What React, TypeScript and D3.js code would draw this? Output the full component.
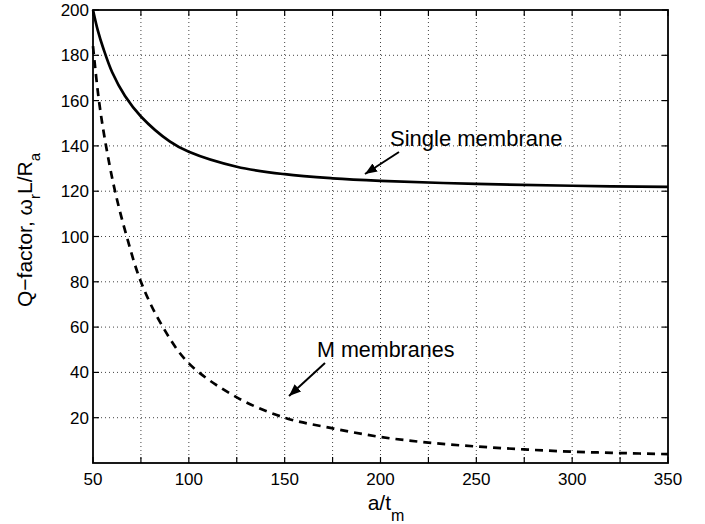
import React, { useEffect, useRef } from 'react';
import * as d3 from 'd3';

// single membrane curve (a/t_m, Q)
const singleX = [50, 52.5, 55.4, 60, 66.7, 75, 90, 100, 125, 150, 175, 200, 250, 300, 350];
const singleY = [200, 191, 183, 172.5, 162, 153, 142, 137.4, 130.8, 127.5, 125.7, 124.6, 123.2, 122.4, 121.9];

// M membranes curve
const multiX = [50, 53.1, 56.8, 61.5, 67.6, 75, 85.8, 100, 125, 150, 175, 200, 225, 250, 275, 300, 325, 350];
const multiY = [184, 160, 140, 120, 100, 80, 61, 44, 29, 20, 15.3, 11.5, 9, 7.3, 6, 5, 4.4, 3.9];

const xTicks = [50, 75, 100, 125, 150, 175, 200, 225, 250, 275, 300, 325, 350];
const xTickLabels = [50, 100, 150, 200, 250, 300, 350];
const yTicks = [20, 40, 60, 80, 100, 120, 140, 160, 180, 200];

const FONT = '"Liberation Sans", Arial, Helvetica, sans-serif';

function App() {
  const svgRef = useRef<SVGSVGElement>(null);

  useEffect(() => {
    const svg = d3.select(svgRef.current);
    svg.selectAll('*').remove();

    const left = 93, right = 668, top = 10, bottom = 463;

    const x = d3.scaleLinear().domain([50, 350]).range([left, right]);
    const y = d3.scaleLinear().domain([0, 200]).range([bottom, top]);

    svg.append('defs').append('marker')
      .attr('id', 'head')
      .attr('viewBox', '0 0 10 10')
      .attr('refX', 10).attr('refY', 5)
      .attr('markerWidth', 12).attr('markerHeight', 12)
      .attr('markerUnits', 'userSpaceOnUse')
      .attr('orient', 'auto')
      .append('path')
      .attr('d', 'M0,1 L10,5 L0,9 Z')
      .attr('fill', '#000');

    // grid
    const grid = svg.append('g')
      .attr('stroke', '#444')
      .attr('stroke-width', 1)
      .attr('stroke-dasharray', '1,3');
    grid.selectAll('line.v')
      .data(xTicks.slice(1, -1))
      .enter().append('line')
      .attr('x1', d => x(d)).attr('x2', d => x(d))
      .attr('y1', top).attr('y2', bottom);
    grid.selectAll('line.h')
      .data(yTicks.slice(0, -1))
      .enter().append('line')
      .attr('x1', left).attr('x2', right)
      .attr('y1', d => y(d)).attr('y2', d => y(d));

    // curves
    const line = d3.line<[number, number]>()
      .x(d => x(d[0]))
      .y(d => y(d[1]))
      .curve(d3.curveCatmullRom.alpha(0.5));

    svg.append('path')
      .datum(singleX.map((v, i) => [v, singleY[i]] as [number, number]))
      .attr('d', line)
      .attr('fill', 'none')
      .attr('stroke', '#000')
      .attr('stroke-width', 2.7);

    svg.append('path')
      .datum(multiX.map((v, i) => [v, multiY[i]] as [number, number]))
      .attr('d', line)
      .attr('fill', 'none')
      .attr('stroke', '#000')
      .attr('stroke-width', 2.7)
      .attr('stroke-dasharray', '8,6');

    // box and ticks
    svg.append('rect')
      .attr('x', left).attr('y', top)
      .attr('width', right - left).attr('height', bottom - top)
      .attr('fill', 'none')
      .attr('stroke', '#000')
      .attr('stroke-width', 1.8);

    const ticks = svg.append('g').attr('stroke', '#000').attr('stroke-width', 1.2);
    xTicks.forEach(t => {
      ticks.append('line').attr('x1', x(t)).attr('x2', x(t)).attr('y1', bottom).attr('y2', bottom - 6);
      ticks.append('line').attr('x1', x(t)).attr('x2', x(t)).attr('y1', top).attr('y2', top + 6);
    });
    yTicks.forEach(t => {
      ticks.append('line').attr('x1', left).attr('x2', left + 6).attr('y1', y(t)).attr('y2', y(t));
      ticks.append('line').attr('x1', right).attr('x2', right - 6).attr('y1', y(t)).attr('y2', y(t));
    });

    // tick labels
    svg.append('g').selectAll('text')
      .data(xTickLabels)
      .enter().append('text')
      .attr('x', d => x(d))
      .attr('y', bottom + 22)
      .attr('text-anchor', 'middle')
      .attr('font-family', FONT)
      .attr('font-size', 17)
      .text(d => d);

    svg.append('g').selectAll('text')
      .data(yTicks)
      .enter().append('text')
      .attr('x', left - 4)
      .attr('y', d => y(d) + 6)
      .attr('text-anchor', 'end')
      .attr('font-family', FONT)
      .attr('font-size', 17)
      .text(d => d);

    // x label
    const xl = svg.append('text')
      .attr('x', 386)
      .attr('y', 510)
      .attr('text-anchor', 'middle')
      .attr('font-family', FONT)
      .attr('font-size', 21);
    xl.append('tspan').text('a/t');
    xl.append('tspan').attr('dy', 11).attr('font-size', 16).text('m');

    // y label
    const yl = svg.append('text')
      .attr('transform', 'translate(32,230) rotate(-90)')
      .attr('text-anchor', 'middle')
      .attr('font-family', FONT)
      .attr('font-size', 21);
    yl.append('tspan').text('Q\u2212factor, \u03c9');
    yl.append('tspan').attr('dy', 8).attr('font-size', 15).text('r');
    yl.append('tspan').attr('dy', -8).text('L/R');
    yl.append('tspan').attr('dy', 8).attr('font-size', 15).text('a');

    // annotations
    svg.append('text')
      .attr('x', 390).attr('y', 145.5)
      .attr('font-family', FONT).attr('font-size', 22)
      .text('Single membrane');
    svg.append('line')
      .attr('x1', 399).attr('y1', 152)
      .attr('x2', 365).attr('y2', 174)
      .attr('stroke', '#000').attr('stroke-width', 2)
      .attr('marker-end', 'url(#head)');

    svg.append('text')
      .attr('x', 317).attr('y', 357)
      .attr('font-family', FONT).attr('font-size', 21.5)
      .text('M membranes');
    svg.append('line')
      .attr('x1', 325).attr('y1', 363)
      .attr('x2', 289).attr('y2', 396)
      .attr('stroke', '#000').attr('stroke-width', 2)
      .attr('marker-end', 'url(#head)');
  }, []);

  return (
    <svg
      ref={svgRef}
      width={705}
      height={524}
      style={{ position: 'absolute', left: 0, top: 0, background: '#fff' }}
    />
  );
}

export default App;
